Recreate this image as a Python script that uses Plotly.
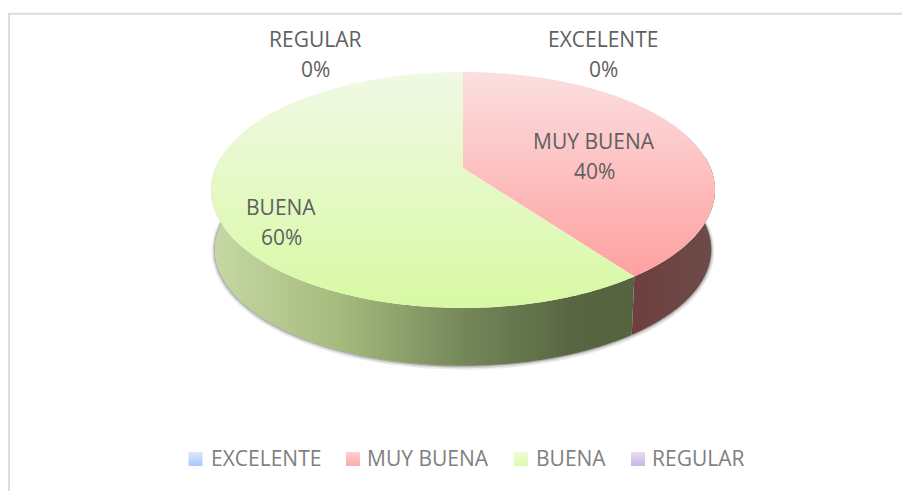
import numpy as np
import plotly.graph_objects as go

categories = ["EXCELENTE", "MUY BUENA", "BUENA", "REGULAR"]
values = [0, 40, 60, 0]
legend_light = ["#dbe6fb", "#ffd0d0", "#eefddb", "#e6def3"]
legend_deep = ["#adc8fa", "#ffaaaa", "#d9fba8", "#c8b6e2"]
top_stops = {
    "MUY BUENA": ("#fbdfe0", "#ffa0a0"),
    "BUENA": ("#f0f9e4", "#d8f9a4"),
}
wall_stops = {
    "MUY BUENA": [(0, "#6e3f3f"), (1, "#6b4c49")],
    "BUENA": [(0, "#c6d8a4"), (0.3, "#a6bb7e"), (0.6, "#74875a"),
              (0.85, "#586741"), (1, "#55633f")],
}

# layout anchors (pixels in the 902x491 frame)
LABEL_ANCHOR = {"EXCELENTE": (603, 39), "MUY BUENA": (594, 141),
                "BUENA": (281, 207), "REGULAR": (315, 39)}
LEGEND_SWATCH_X = {"EXCELENTE": 195.5, "MUY BUENA": 353, "BUENA": 521, "REGULAR": 638}
LEGEND_TEXT_X = {"EXCELENTE": 209, "MUY BUENA": 365, "BUENA": 534, "REGULAR": 650}
LEGEND_Y = 459
LINE_STEP = 30
FONT = "Open Sans"
CX, CY, B, A, K, DROP, SHRINK = 463, 168, 247.6, 113.9, 0.186, 60, 0.985


def project(theta, drop=0.0, scale=1.0):
    u, w = np.sin(theta), -np.cos(theta)
    d = 1 - K * w
    return CX + scale * B * u / d, CY + scale * A * w / d + drop


fig = go.Figure()

# soft shadow hugging the lower rim
front = np.linspace(np.pi * 0.5 - 0.1, np.pi * 1.5 + 0.1, 160)
for grow, alpha in [(3, 0.10), (1.8, 0.16), (0.8, 0.28)]:
    sx, sy = project(front, DROP, SHRINK)
    fig.add_trace(go.Scatter(
        x=sx + np.sign(sx - CX) * grow * 0.3, y=sy + grow * 0.5, mode="lines",
        line=dict(color=f"rgba(70,70,70,{alpha})", width=grow * 1.6),
        hoverinfo="skip", showlegend=False))

total = sum(values)
angle = 0.0
wedges = []
for name, v in zip(categories, values):
    span = 2 * np.pi * v / total
    wedges.append((name, angle, angle + span))
    angle += span

# outer walls of the part of the rim that faces the viewer
for name, a0, a1 in wedges:
    if a1 <= a0:
        continue
    lo, hi = max(a0, np.pi / 2 - 0.1), min(a1, np.pi * 1.5 + 0.1)
    if hi <= lo:
        continue
    t = np.linspace(lo, hi, 160)
    x1, y1 = project(t)
    x2, y2 = project(t, DROP, SHRINK)
    fig.add_trace(go.Scatter(
        x=np.r_[x1, x2[::-1]], y=np.r_[y1, y2[::-1]], mode="none", fill="toself",
        fillgradient=dict(type="horizontal", colorscale=wall_stops[name]),
        hoverinfo="skip", showlegend=False))

# top faces
for name, a0, a1 in wedges:
    if a1 <= a0:
        continue
    t = np.linspace(a0, a1, 240)
    x, y = project(t)
    light, deep = top_stops[name]
    fig.add_trace(go.Scatter(
        x=np.r_[CX, x, CX], y=np.r_[CY, y, CY], mode="none", fill="toself",
        fillgradient=dict(type="vertical", colorscale=[(0, deep), (1, light)]),
        hoverinfo="skip", showlegend=False))

# legend swatches and names
for name, light, deep in zip(categories, legend_light, legend_deep):
    fig.add_trace(go.Scatter(
        x=[LEGEND_SWATCH_X[name]], y=[LEGEND_Y], mode="markers", name=name,
        marker=dict(symbol="square", size=14, color=light,
                    gradient=dict(type="vertical", color=deep), line=dict(width=0)),
        showlegend=False))
    fig.add_annotation(x=LEGEND_TEXT_X[name], y=LEGEND_Y - 1, text=name, showarrow=False,
                       xanchor="left",
                       font=dict(family=FONT, size=21, color="#7f7f7f"))

# data labels
for name, v in zip(categories, values):
    x, y = LABEL_ANCHOR[name]
    for text, yy in [(name, y), (f"{round(100 * v / total)}%", y + LINE_STEP)]:
        fig.add_annotation(x=x, y=yy, text=text, showarrow=False,
                           font=dict(family=FONT, size=21, color="#5f5f5f"))

fig.update_layout(
    width=902, height=491, margin=dict(l=0, r=0, t=0, b=0),
    paper_bgcolor="white", plot_bgcolor="white", showlegend=False,
    xaxis=dict(range=[0, 902], visible=False, fixedrange=True),
    yaxis=dict(range=[491, 0], visible=False, fixedrange=True),
    shapes=[
        dict(type="line", xref="x", yref="y", x0=8, x1=902, y0=13.7, y1=13.7,
             line=dict(color="#dcdcdc", width=2), layer="below"),
        dict(type="line", xref="x", yref="y", x0=9, x1=9, y0=13, y1=491,
             line=dict(color="#dcdcdc", width=2), layer="below"),
    ],
)
fig.write_html("out.html", config={"displayModeBar": False},
               post_script="document.body.style.margin='0';")
